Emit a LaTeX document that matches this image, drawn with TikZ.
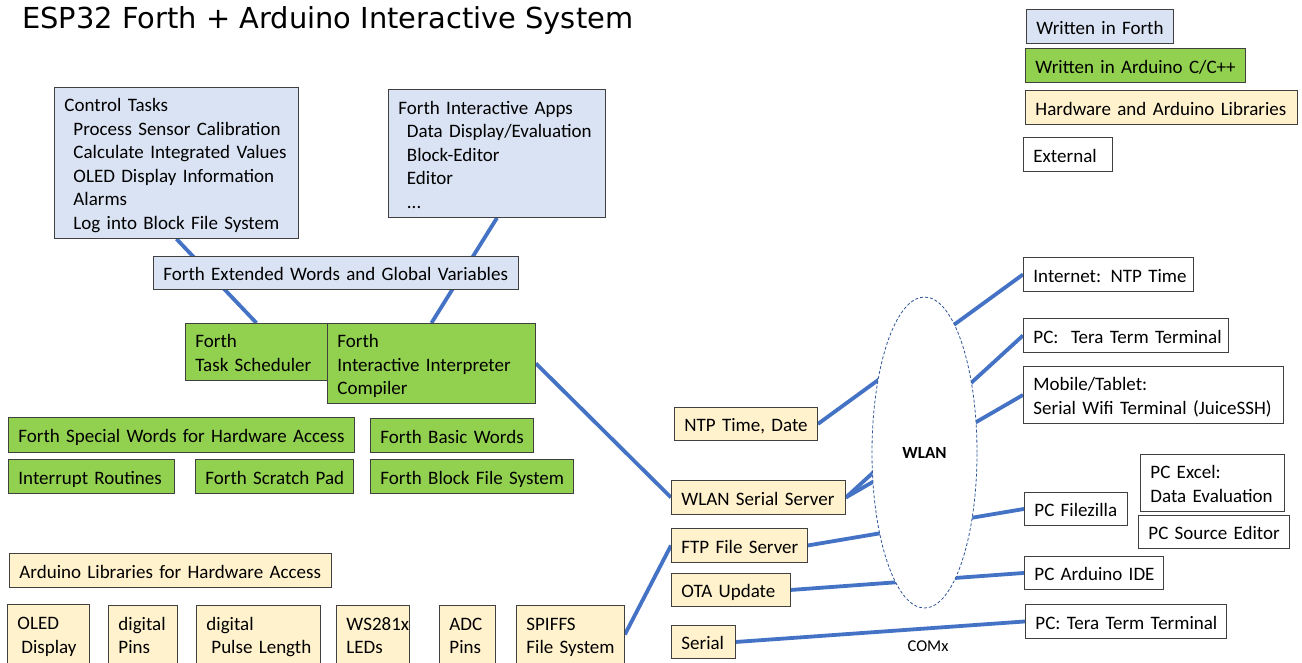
\documentclass[tikz,border=0pt]{standalone}
\usepackage{fontspec}
\setmainfont{Carlito}
\newfontfamily\titlefont{DejaVu Sans}
\usetikzlibrary{shapes.geometric}
\definecolor{forthblue}{HTML}{DAE3F3}
\definecolor{ardgreen}{HTML}{92D050}
\definecolor{hwyellow}{HTML}{FFF2CC}
\definecolor{lineblue}{HTML}{4472C4}
\definecolor{ellblue}{HTML}{2F5597}
\pgfdeclarelayer{back}
\pgfdeclarelayer{bg}
\pgfsetlayers{back,bg,main}
\newcommand\bx[7]{%
  \pgfmathsetmacro\bw{#5-#3}\pgfmathsetmacro\bh{#6-#4}\pgfmathsetmacro\tw{#5-#3-20}%
  \node[#1, minimum width=\bw pt, minimum height=\bh pt, text width=\tw pt] (#2) at (#3,#4)
    {\begin{tabular}{@{}l@{}}\rule{0pt}{22.5pt}#7\end{tabular}};}
\begin{document}
\begin{tikzpicture}[x=1pt,y=-1pt,
  box/.style={draw=black!75, line width=0.9pt, anchor=north west, inner xsep=10pt, inner ysep=0pt,
    align=left, font=\fontsize{19}{23.5}\selectfont},
  fb/.style={box, fill=forthblue},
  gb/.style={box, fill=ardgreen},
  hb/.style={box, fill=hwyellow},
  eb/.style={box, fill=white},
  conn/.style={draw=lineblue, line width=3.8pt}]
\useasboundingbox (0,0) rectangle (1302,662);
\begin{pgfonlayer}{back}
\fill[white] (0,0) rectangle (1302,662);
\end{pgfonlayer}

\node[anchor=base west, inner sep=0pt, font=\titlefont\fontsize{28.9}{32}\selectfont] (title) at (22,28) {ESP32 Forth + Arduino Interactive System};

% legend
\bx{fb}{lgf}{1026}{9}{1173}{43}{Written in Forth}
\bx{gb}{lga}{1025}{48}{1245}{82}{Written in Arduino C/C++}
\bx{hb}{lgh}{1025}{90}{1297}{124}{Hardware and Arduino Libraries}
\bx{eb}{lge}{1023}{137}{1112}{171}{External}

% Forth part
\bx{fb}{ctrl}{54}{87}{298}{238}{Control Tasks\\\hspace*{9pt}Process Sensor Calibration\\\hspace*{9pt}Calculate Integrated Values\\\hspace*{9pt}OLED Display Information\\\hspace*{9pt}Alarms\\\hspace*{9pt}Log into Block File System}
\bx{fb}{apps}{388}{89}{605}{217}{Forth Interactive Apps\\\hspace*{8.5pt}Data Display/Evaluation\\\hspace*{8.5pt}Block-Editor\\\hspace*{8.5pt}Editor\\\hspace*{8.5pt}...}
\bx{fb}{ext}{153}{256}{518}{289}{Forth Extended Words and Global Variables}
\bx{gb}{task}{185}{323}{327}{380}{Forth\\Task Scheduler}
\bx{gb}{interp}{327}{323}{535}{403}{Forth\\Interactive Interpreter\\Compiler}
\bx{gb}{special}{8}{417}{354}{452}{Forth Special Words for Hardware Access}
\bx{gb}{basic}{370}{418}{533}{452}{Forth Basic Words}
\bx{gb}{intr}{8}{459}{174}{493}{Interrupt Routines}
\bx{gb}{scratch}{195}{459}{353}{493}{Forth Scratch Pad}
\bx{gb}{block}{370}{459}{573}{493}{Forth Block File System}

% hardware libraries
\bx{hb}{arlib}{9}{553}{331}{587}{Arduino Libraries for Hardware Access}
\bx{hb}{oled}{7}{604}{89}{663}{OLED\\\hspace*{4pt}Display}
\bx{hb}{dpins}{108}{605}{177}{663}{digital\\Pins}
\bx{hb}{pulse}{196}{605}{320}{663}{digital\\\hspace*{5pt}Pulse Length}
\bx{hb}{ws}{336}{605}{409}{663}{WS281x\\LEDs}
\bx{hb}{adc}{439}{605}{495}{663}{ADC\\Pins}
\bx{hb}{spiffs}{516}{605}{624}{663}{SPIFFS\\File System}

% network services
\bx{hb}{ntp}{674}{407}{817}{440}{NTP Time, Date}
\bx{hb}{wss}{671}{480}{845}{514}{WLAN Serial Server}
\bx{hb}{ftp}{671}{528}{807}{562}{FTP File Server}
\bx{hb}{ota}{671}{573}{790}{606}{OTA Update}
\bx{hb}{serial}{671}{625}{735}{658}{Serial}

% external
\bx{eb}{inet}{1023}{257}{1193}{291}{Internet: NTP Time}
\bx{eb}{tera}{1023}{318}{1228}{352}{PC:\ \ Tera Term Terminal}
\bx{eb}{mobile}{1023}{366}{1283}{423}{Mobile/Tablet:\\Serial Wifi Terminal (JuiceSSH)}
\bx{eb}{excel}{1140}{454}{1284}{511}{PC Excel:\\Data Evaluation}
\bx{eb}{srced}{1138}{515}{1289}{548}{PC Source Editor}
\bx{eb}{filez}{1024}{492}{1127}{525}{PC Filezilla}
\bx{eb}{ide}{1024}{556}{1163}{589}{PC Arduino IDE}
\bx{eb}{tera2}{1025}{604}{1226}{638}{PC: Tera Term Terminal}

% WLAN cloud
\node[ellipse, draw=ellblue, line width=0.8pt, dash pattern=on 3pt off 2pt, fill=white,
  minimum width=105pt, minimum height=311pt, inner sep=0pt,
  font=\bfseries\fontsize{17}{20}\selectfont] (wlan) at (924.5,452.5) {WLAN};

\node[inner sep=0pt, font=\fontsize{16.5}{19}\selectfont] (comx) at (928,646) {COMx};

\begin{pgfonlayer}{bg}
\draw[conn] (ctrl.south) -- (task.north);
\draw[conn] (apps.south) -- (interp.north);
\draw[conn] (interp.east) -- (wss.west);
\draw[conn] (ntp.east) -- (inet.west);
\draw[conn] (wss.east) -- (tera.west);
\draw[conn] (wss.east) -- (mobile.west);
\draw[conn] (ftp.east) -- (filez.west);
\draw[conn] (ota.east) -- (ide.west);
\draw[conn] (serial.east) -- (tera2.west);
\draw[conn] (spiffs.east) -- (ftp.west);
\end{pgfonlayer}
\end{tikzpicture}
\end{document}
